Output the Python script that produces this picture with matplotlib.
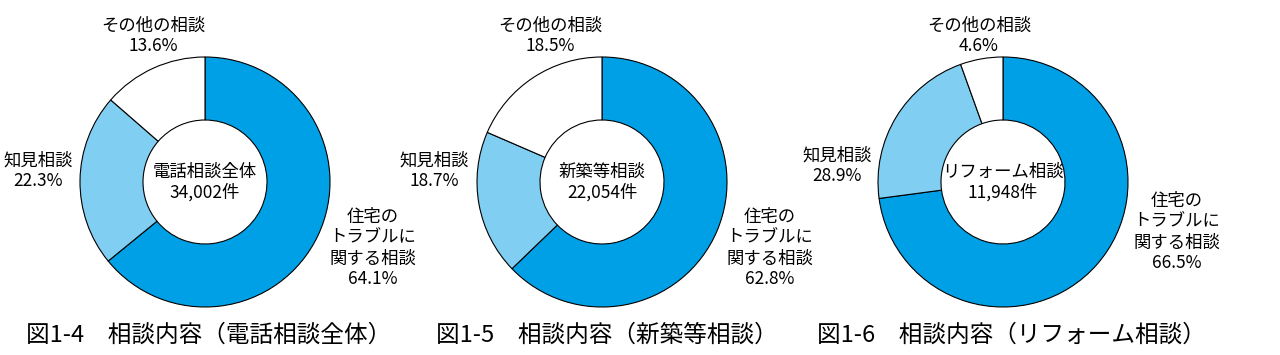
import matplotlib
matplotlib.use("Agg")
import matplotlib.pyplot as plt

plt.rcParams['font.family'] = ['Noto Sans CJK JP', 'DejaVu Sans']

# data
titles = ['図1-4　相談内容（電話相談全体）',
          '図1-5　相談内容（新築等相談）',
          '図1-6　相談内容（リフォーム相談）']
center_names = ['電話相談全体', '新築等相談', 'リフォーム相談']
totals = ['34,002件', '22,054件', '11,948件']
categories = ['住宅の\nトラブルに\n関する相談', '知見相談', 'その他の相談']
# printed percentages
shares = [
    [64.1, 22.3, 13.6],
    [62.8, 18.7, 18.5],
    [66.5, 28.9, 4.6],
]
# wedge sizes as drawn in the source (the third chart is drawn off its labels)
wedge_sizes = [
    [64.1, 22.3, 13.6],
    [62.8, 18.7, 18.5],
    [72.9, 21.6, 5.5],
]
colors = ['#00a0e6', '#80cef2', '#ffffff']

# layout in pixels (from top-left)
W, H = 1280, 355
centers = [(205, 182), (602, 182), (1003, 182)]
R = 125
hole = 62
title_pos = [(209, 335), (607, 335), (1011, 335)]
# label anchors: trouble, knowledge, other
label_pos = [
    [(373, 248), (38, 171), (153, 36)],
    [(770, 248), (434, 171), (550, 36)],
    [(1177, 232), (837, 166), (979, 36)],
]

fig = plt.figure(figsize=(W / 100, H / 100), dpi=100)
ax = fig.add_axes([0, 0, 1, 1])

for i in range(3):
    cx, cy = centers[i]
    ax.pie(wedge_sizes[i], colors=colors, startangle=90, counterclock=False,
           center=(cx, H - cy), radius=R,
           wedgeprops=dict(width=R - hole, edgecolor='black', linewidth=0.8))
    ax.text(cx, H - cy, center_names[i] + '\n' + totals[i], ha='center', va='center',
            fontsize=12.5, linespacing=1.15)
    for j in range(3):
        lx, ly = label_pos[i][j]
        ax.text(lx, H - ly, f'{categories[j]}\n{shares[i][j]:.1f}%', ha='center',
                va='center', fontsize=12.5, linespacing=1.2)
    tx, ty = title_pos[i]
    ax.text(tx, H - ty, titles[i], ha='center', va='center', fontsize=17)

ax.set_xlim(0, W)
ax.set_ylim(0, H)
ax.set_aspect('auto')
ax.axis('off')

fig.savefig('out.png', dpi=100)
